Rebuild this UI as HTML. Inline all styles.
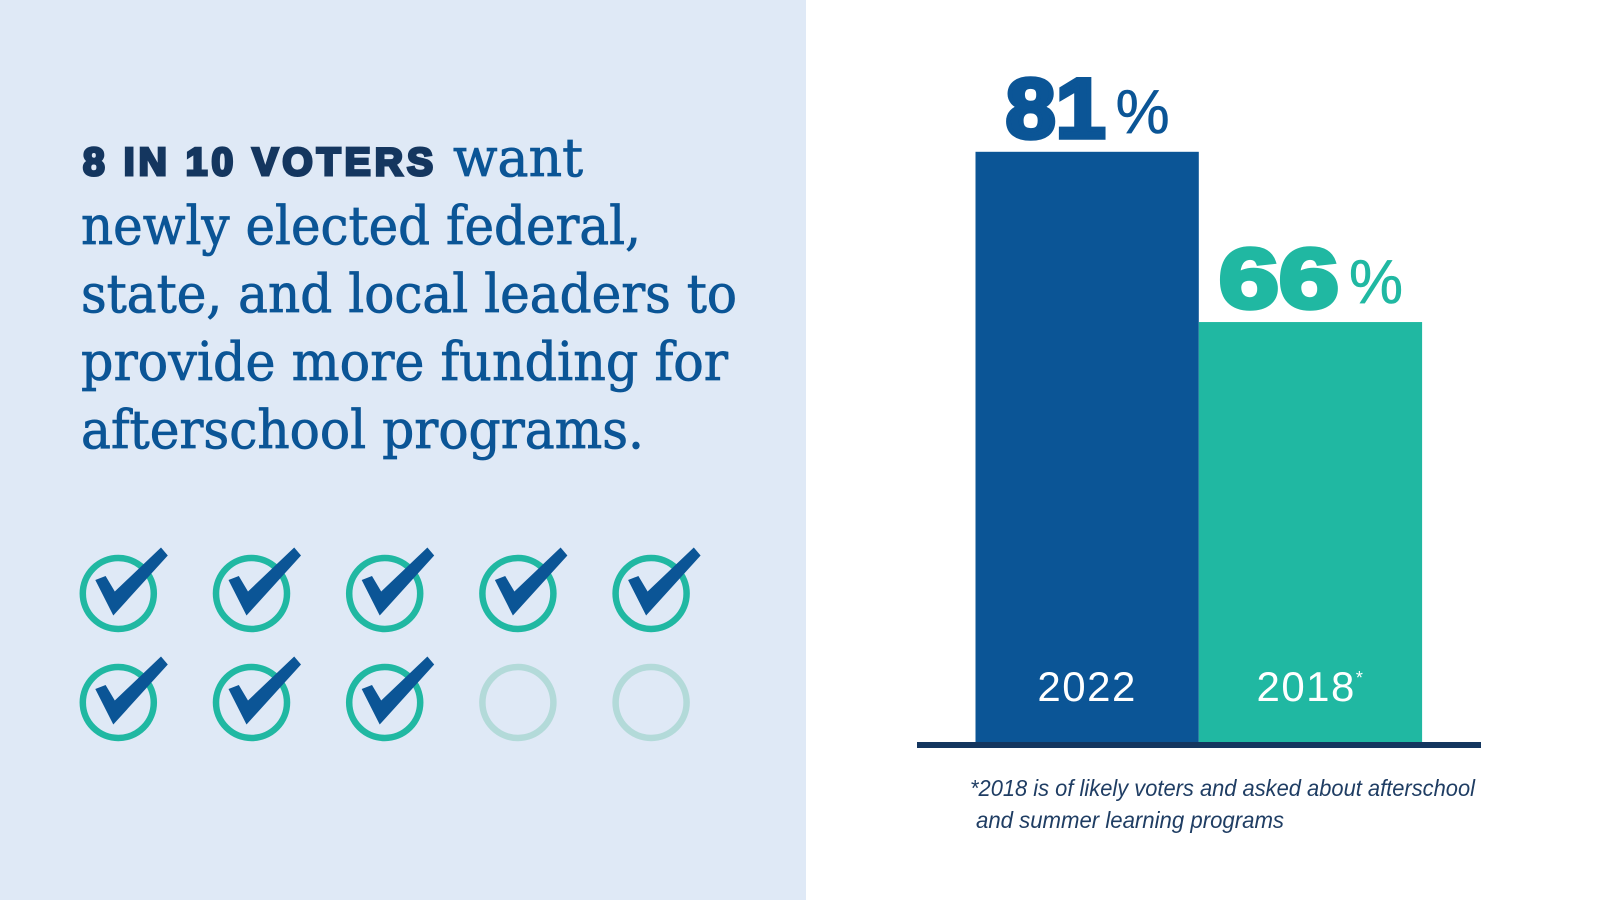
<!DOCTYPE html>
<html lang="en">
<head>
<meta charset="utf-8">
<title>8 in 10 voters want more afterschool funding</title>
<style>
html,body{margin:0;padding:0;width:1600px;height:900px;background:#fff;overflow:hidden}
svg{display:block}
.serif{font-family:"DejaVu Serif","Liberation Serif",serif;font-size:53px;fill:#0b5596;stroke:#0b5596;stroke-width:.8px}
.kicker{font-family:"Liberation Sans",sans-serif;font-weight:700;font-size:39px;fill:#14365f;stroke:#14365f;stroke-width:3px}
.note{font-family:"Liberation Sans",sans-serif;font-style:italic;font-size:23px;fill:#1f3d63}
</style>
</head>
<body>
<svg id="chart" width="1600" height="900" viewBox="0 0 1600 900" xmlns="http://www.w3.org/2000/svg">
  <rect x="0" y="0" width="806" height="900" fill="#dfe9f6"/>
  <text class="kicker" x="83" y="175" textLength="350" lengthAdjust="spacing">8 IN 10 VOTERS</text>
  <text class="serif" x="453" y="176" textLength="130" lengthAdjust="spacingAndGlyphs">want</text>
  <text class="serif" x="81" y="244" textLength="560" lengthAdjust="spacingAndGlyphs">newly elected federal,</text>
  <text class="serif" x="81" y="312" textLength="656" lengthAdjust="spacingAndGlyphs">state, and local leaders to</text>
  <text class="serif" x="81" y="380" textLength="647" lengthAdjust="spacingAndGlyphs">provide more funding for</text>
  <text class="serif" x="81" y="448" textLength="563" lengthAdjust="spacingAndGlyphs">afterschool programs.</text>
  <g id="icons"></g>
  <g id="bars"></g>
  <rect x="917" y="742" width="564" height="6" fill="#14365f"/>
  <text class="note" x="970" y="796" textLength="505" lengthAdjust="spacingAndGlyphs">*2018 is of likely voters and asked about afterschool</text>
  <text class="note" x="976" y="828" textLength="308" lengthAdjust="spacingAndGlyphs">and summer learning programs</text>
</svg>
<script>
const categories = ['2022', '2018'];
const values = [81, 66];
const categoryNotes = ['', '*'];
const barColors = ['#0b5596', '#20b8a2'];
const votersInTen = 8;
const totalIcons = 10;

const NS = 'http://www.w3.org/2000/svg';
const axisBase = 742;
const axisFloorValue = 29;
const pxPerPoint = 11.35;
const barLeft = 975.5;
const barWidth = 223.3;
function yScale(v) { return axisBase - (v - axisFloorValue) * pxPerPoint; }
function xScale(i) { return barLeft + i * barWidth; }
function make(tag, attrs) {
  const el = document.createElementNS(NS, tag);
  Object.keys(attrs).forEach(function (k) { el.setAttribute(k, attrs[k]); });
  return el;
}
function numberWidth(str) {
  return str.split('').reduce(function (w, c) { return w + (c === '1' ? 41 : 61); }, 0);
}

const barsGroup = document.getElementById('bars');
const pctWidth = 54;
const pctGap = 9;
categories.forEach(function (cat, i) {
  const top = yScale(values[i]);
  const cx = xScale(i) + barWidth / 2;

  const bar = make('rect', { x: xScale(i), y: top, width: barWidth, height: axisBase - top, fill: barColors[i] });
  
  
  barsGroup.appendChild(bar);

  const numStr = String(values[i]);
  const numW = numberWidth(numStr);
  const startX = cx - (numW + pctGap + pctWidth) / 2;

  const num = make('text', { x: startX + 1, y: top - 14.5, fill: barColors[i], stroke: barColors[i], 'stroke-width': 4.5, 'font-size': 84, 'font-weight': 700, 'font-family': '"Liberation Sans", sans-serif', textLength: numW - 2, lengthAdjust: 'spacingAndGlyphs' });
  
  
  num.textContent = numStr;
  barsGroup.appendChild(num);

  const pct = make('text', { x: startX + numW + pctGap, y: top - 19, fill: barColors[i], stroke: barColors[i], 'stroke-width': 0.6, 'font-size': 62, 'font-family': '"Liberation Sans", sans-serif', textLength: pctWidth, lengthAdjust: 'spacingAndGlyphs' });
  
  
  pct.textContent = '%';
  barsGroup.appendChild(pct);

  const year = make('text', { x: cx, y: 701, 'text-anchor': 'middle', fill: '#fff', 'font-size': 42, 'letter-spacing': 1.5, 'font-family': '"Liberation Sans", sans-serif' });
  
  
  year.textContent = cat;
  if (categoryNotes[i]) {
    const mark = make('tspan', { 'font-size': 18, dy: -17 });
    mark.textContent = categoryNotes[i];
    year.appendChild(mark);
  }
  barsGroup.appendChild(year);
});

const iconsGroup = document.getElementById('icons');
for (let n = 0; n < totalIcons; n++) {
  const cx = 118.3 + (n % 5) * 133.2;
  const cy = 593.5 + Math.floor(n / 5) * 109;
  const checked = n < votersInTen;
  const ring = make('circle', { cx: cx, cy: cy, r: 35.5, fill: 'none', 'stroke-width': 6.5, stroke: checked ? '#20b8a2' : '#b3dad9' });
  
  
  iconsGroup.appendChild(ring);
  if (checked) {
    const tick = make('polygon', { fill: '#0b5596', transform: 'translate(' + cx + ' ' + cy + ')', points: '-23,-13.5 -12.7,-17.5 -3.5,-2 42.7,-46 49.5,-38 -5,22' });
    
    
    iconsGroup.appendChild(tick);
  }
}
</script>
</body>
</html>
